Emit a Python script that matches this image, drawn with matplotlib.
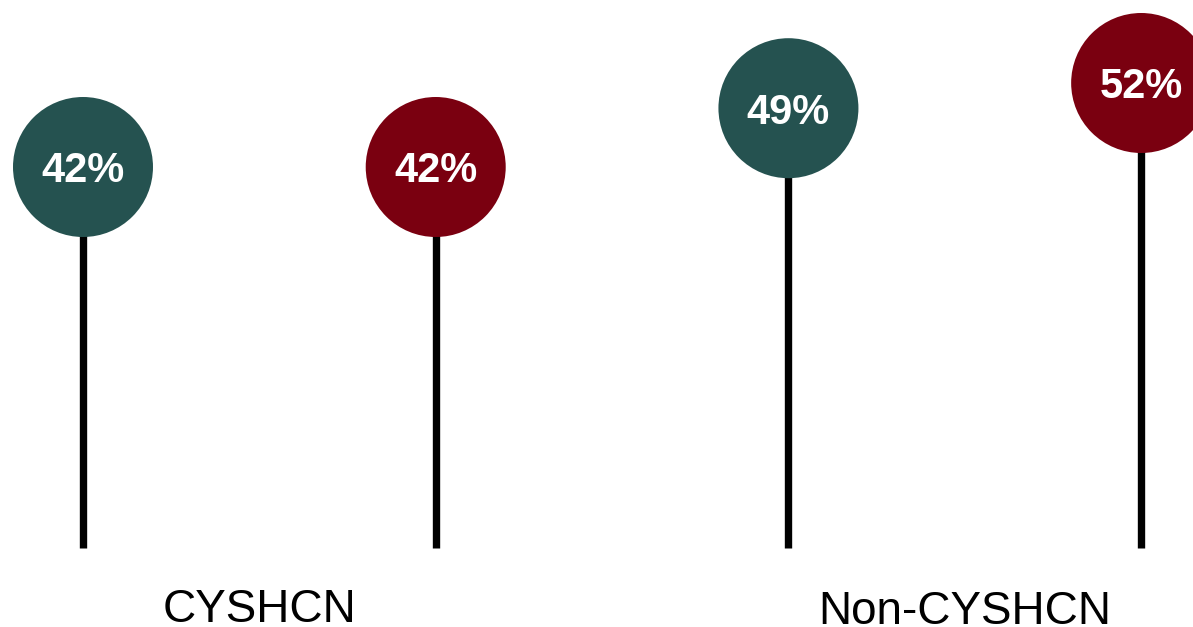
import matplotlib.pyplot as plt

plt.rcParams['font.family'] = ['Liberation Sans', 'DejaVu Sans']

# data
groups = ['CYSHCN', 'Non-CYSHCN']
positions = [0, 1, 2, 3]
values = [42, 42, 49, 52]
colors = ['#255250', '#7a0010', '#255250', '#7a0010']
base = -3.4

fig = plt.figure(figsize=(11.93, 6.27), dpi=100)
ax = fig.add_axes([0, 0, 1, 1])

# stems
ax.vlines(positions, base, values, color='black', linewidth=5.3, zorder=1)

# circles
ax.scatter(positions, values, s=10160, c=colors, edgecolors='none', zorder=2)

# value labels inside circles
for x, v in zip(positions, values):
    ax.annotate(f'{v}%', (x, v), xytext=(0, -15.5), textcoords='offset pixels',
                ha='center', va='baseline', color='white',
                fontsize=30, fontweight='bold', zorder=3)

# group labels
ax.text(0.5, -12.2, groups[0], ha='center', va='baseline', fontsize=33)
ax.text(2.5, -12.4, groups[1], ha='center', va='baseline', fontsize=33)

ax.set_xlim(-0.2353, 3.147)
ax.set_ylim(-12.76, 61.88)
ax.axis('off')

fig.savefig('out.png', dpi=100)
